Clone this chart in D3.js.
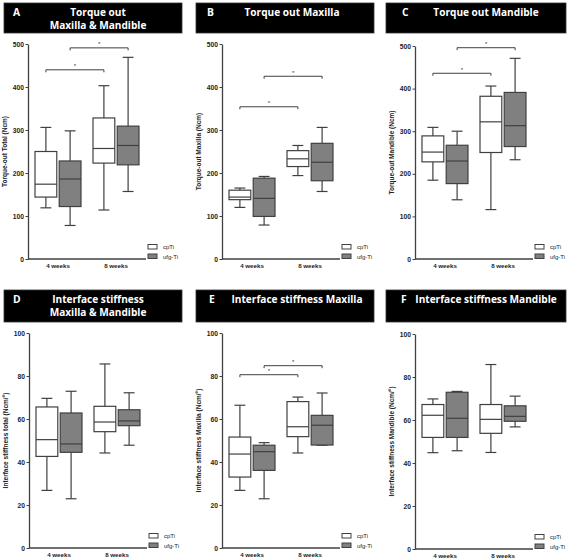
<!DOCTYPE html>
<html><head><meta charset="utf-8">
<script src="https://cdn.jsdelivr.net/npm/d3@7"></script>
<style>body{margin:0;background:#fff} svg{display:block}</style>
</head><body>
<svg id="c" width="569" height="558"></svg>
<script>
const groups = ["4 weeks", "8 weeks"];
const series = ["cpTi", "ufg-Ti"];
const torqueTicks = [0, 100, 200, 300, 400, 500];
const stiffTicks = [0, 20, 40, 60, 80, 100];
// [min, q1, median, q3, max] for 4 weeks, 8 weeks
const torqueTotalCpTi = [[119, 144, 174, 250, 306], [114, 223, 257, 328, 403]];
const torqueTotalUfg  = [[78, 122, 186, 228, 298], [157, 219, 264, 309, 469]];
const torqueMaxCpTi   = [[120, 138, 144, 160, 165], [194, 215, 233, 252, 264]];
const torqueMaxUfg    = [[79, 99, 141, 188, 192], [157, 182, 225, 269, 306]];
const torqueManCpTi   = [[185, 228, 251, 289, 309], [116, 250, 322, 382, 406]];
const torqueManUfg    = [[139, 177, 230, 267, 300], [233, 264, 313, 391, 471]];
const stiffTotalCpTi  = [[26.8, 42.6, 50.4, 65.6, 69.6], [44.2, 54.1, 58.6, 65.9, 85.6]];
const stiffTotalUfg   = [[22.9, 44.5, 48.4, 62.8, 72.9], [47.8, 56.9, 59.1, 64.3, 72.2]];
const stiffMaxCpTi    = [[26.8, 33.0, 43.7, 51.6, 66.4], [44.2, 51.8, 56.4, 68.1, 70.2]];
const stiffMaxUfg     = [[22.9, 36.1, 44.8, 47.8, 49.0], [47.8, 47.9, 57.1, 61.7, 72.1]];
const stiffManCpTi    = [[44.8, 51.9, 62.2, 67.2, 69.8], [44.9, 53.8, 60.3, 67.2, 85.8]];
const stiffManUfg     = [[45.7, 51.9, 60.8, 72.9, 73.3], [56.8, 59.4, 61.7, 66.6, 71.1]];
// significance bars: [cpTi 4w vs 8w, ufg-Ti 4w vs 8w]
const torqueTotalSig = [440, 491];
const torqueMaxSig   = [354, 425];
const torqueManSig   = [436, 496];
const stiffMaxSig    = [80.6, 84.8];

const panels = [
  {letter: "A", title: ["Torque out", "Maxilla & Mandible"], yLabel: "Torque-out Total (Ncm)", ticks: torqueTicks, data: [torqueTotalCpTi, torqueTotalUfg], sig: torqueTotalSig,
   box: [4, 3, 178, 30], lx: 13, tx: 98, ax: 28, y0: 259, y1: 44, row: 0},
  {letter: "B", title: ["Torque out Maxilla"], yLabel: "Torque-out Maxilla (Ncm)", ticks: torqueTicks, data: [torqueMaxCpTi, torqueMaxUfg], sig: torqueMaxSig,
   box: [196, 3, 178, 30], lx: 207, tx: 292, ax: 222, y0: 259, y1: 44, row: 0},
  {letter: "C", title: ["Torque out Mandible"], yLabel: "Torque-out Mandible (Ncm)", ticks: torqueTicks, data: [torqueManCpTi, torqueManUfg], sig: torqueManSig,
   box: [386, 3, 180, 30], lx: 402, tx: 486, ax: 415, y0: 259, y1: 46, row: 0},
  {letter: "D", title: ["Interface stiffness", "Maxilla & Mandible"], yLabel: "Interface stiffness total (Ncm/°)", ticks: stiffTicks, data: [stiffTotalCpTi, stiffTotalUfg], sig: null,
   box: [4, 290, 178, 32], lx: 13, tx: 98, ax: 29, y0: 548, y1: 333, row: 1},
  {letter: "E", title: ["Interface stiffness Maxilla"], yLabel: "Interface stiffness Maxilla (Ncm/°)", ticks: stiffTicks, data: [stiffMaxCpTi, stiffMaxUfg], sig: stiffMaxSig,
   box: [196, 290, 178, 32], lx: 209, tx: 297, ax: 222, y0: 548, y1: 333, row: 1},
  {letter: "F", title: ["Interface stiffness Mandible"], yLabel: "Interface stiffness Mandible (Ncm/°)", ticks: stiffTicks, data: [stiffManCpTi, stiffManUfg], sig: null,
   box: [386, 290, 180, 32], lx: 401, tx: 486, ax: 415, y0: 549, y1: 334, row: 1}
];

const svg = d3.select("#c");
const ink = "#404040";
const fills = ["#ffffff", "#808080"];
const axisFont = "'Liberation Sans', Arial, sans-serif";
const titleFont = "'Open Sans', sans-serif";

panels.forEach(p => {
  const g = svg.append("g");
  // title box
  g.append("rect").attr("x", p.box[0]).attr("y", p.box[1]).attr("width", p.box[2]).attr("height", p.box[3])
    .attr("fill", "#000").attr("stroke", "#333").attr("stroke-width", 0.8);
  const tb = p.row === 0 ? 15.5 : 303;
  g.append("text").attr("x", p.lx).attr("y", tb).text(p.letter)
    .attr("fill", "#fff").attr("font-family", titleFont).attr("font-weight", 700).attr("font-size", 10.3);
  p.title.forEach((t, i) => {
    g.append("text").attr("x", p.tx).attr("y", tb + i * 13).attr("text-anchor", "middle").text(t)
      .attr("fill", "#fff").attr("font-family", titleFont).attr("font-weight", 700).attr("font-size", 10.1);
  });

  const y = d3.scaleLinear().domain([0, p.ticks[p.ticks.length - 1]]).range([p.y0, p.y1]);
  const x = d3.scalePoint().domain(groups).range([p.ax + 30, p.ax + 88]);
  const xs = d3.scaleBand().domain(series).range([-23, 23]).paddingInner(0.1);
  const bw = xs.bandwidth();

  // y axis
  const ya = g.append("g").attr("transform", `translate(${p.ax},0)`)
    .call(d3.axisLeft(y).tickValues(p.ticks).tickSize(2.5).tickPadding(1.5).tickSizeOuter(0));
  ya.select(".domain").attr("stroke", ink).attr("stroke-width", 1.3);
  ya.selectAll(".tick line").attr("stroke", ink).attr("stroke-width", 1);
  ya.selectAll(".tick text").attr("font-family", axisFont).attr("font-weight", 700).attr("font-size", 6.7).attr("fill", "#222");

  // x axis line
  g.append("line").attr("x1", p.ax).attr("x2", p.ax + 118).attr("y1", p.y0).attr("y2", p.y0)
    .attr("stroke", ink).attr("stroke-width", 1.3);
  groups.forEach(gr => {
    g.append("text").attr("x", x(gr)).attr("y", p.y0 + 8.5).attr("text-anchor", "middle").text(gr)
      .attr("font-family", axisFont).attr("font-weight", 700).attr("font-size", 6.2).attr("fill", "#222");
  });

  // y label
  g.append("text").attr("transform", `translate(${p.ax - 21},${(p.y0 + p.y1) / 2}) rotate(-90)`)
    .attr("text-anchor", "middle").text(p.yLabel)
    .attr("font-family", axisFont).attr("font-weight", 700).attr("font-size", 6.5).attr("fill", "#222");

  // boxes
  groups.forEach((gr, gi) => {
    series.forEach((s, si) => {
      const [mn, q1, md, q3, mx] = p.data[si][gi];
      const cx = x(gr) + xs(s) + bw / 2;
      const bg = g.append("g").attr("stroke", ink).attr("stroke-width", 1.2);
      bg.append("line").attr("x1", cx).attr("x2", cx).attr("y1", y(mx)).attr("y2", y(q3));
      bg.append("line").attr("x1", cx).attr("x2", cx).attr("y1", y(q1)).attr("y2", y(mn));
      bg.append("line").attr("x1", cx - bw / 4).attr("x2", cx + bw / 4).attr("y1", y(mx)).attr("y2", y(mx));
      bg.append("line").attr("x1", cx - bw / 4).attr("x2", cx + bw / 4).attr("y1", y(mn)).attr("y2", y(mn));
      bg.append("rect").attr("x", cx - bw / 2).attr("y", y(q3)).attr("width", bw).attr("height", y(q1) - y(q3))
        .attr("fill", fills[si]);
      bg.append("line").attr("x1", cx - bw / 2).attr("x2", cx + bw / 2).attr("y1", y(md)).attr("y2", y(md));
    });
  });

  // significance brackets
  if (p.sig) {
    series.forEach((s, si) => {
      const x1 = x(groups[0]) + xs(s) + bw / 2;
      const x2 = x(groups[1]) + xs(s) + bw / 2;
      const yy = y(p.sig[si]);
      g.append("path").attr("d", `M${x1},${yy + 2.5}V${yy}H${x2}V${yy + 2.5}`)
        .attr("fill", "none").attr("stroke", ink).attr("stroke-width", 1);
      g.append("text").attr("x", (x1 + x2) / 2).attr("y", yy - 1.5).attr("text-anchor", "middle").text("*")
        .attr("font-family", axisFont).attr("font-size", 6).attr("fill", "#333");
    });
  }

  // legend
  series.forEach((s, si) => {
    const ly = p.y0 - 14.5 + si * 9.5;
    g.append("rect").attr("x", p.ax + 120).attr("y", ly).attr("width", 9).attr("height", 4.5)
      .attr("fill", fills[si]).attr("stroke", ink).attr("stroke-width", 1);
    g.append("text").attr("x", p.ax + 135).attr("y", ly + 4.5).text(s)
      .attr("font-family", axisFont).attr("font-size", 6).attr("fill", "#222");
  });
});
</script>
</body></html>
